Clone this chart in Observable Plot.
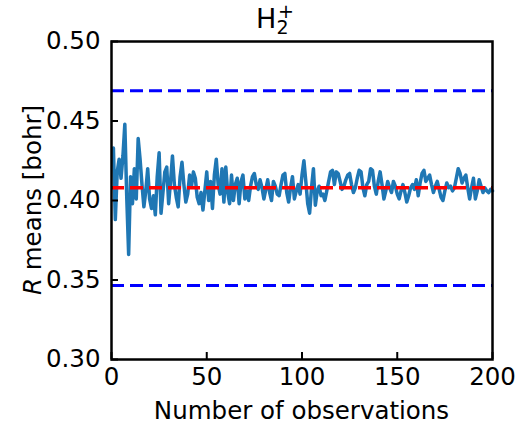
<!DOCTYPE html>
<html><head><meta charset="utf-8">
<script src="https://cdn.jsdelivr.net/npm/d3@7"></script>
<script src="https://cdn.jsdelivr.net/npm/@observablehq/plot@0.6"></script>
<style>body{margin:0;background:#fff;font-family:"DejaVu Sans",sans-serif;}</style>
</head><body><div id="chart"></div>
<script>
const means = [
0.433,0.388,0.418,0.426,0.414,0.428,0.448,0.402,0.366,0.415,
0.398,0.420,0.401,0.439,0.426,0.410,0.396,0.406,0.420,0.401,
0.395,0.403,0.391,0.415,0.430,0.392,0.405,0.418,0.421,0.398,
0.412,0.428,0.410,0.402,0.396,0.415,0.424,0.410,0.399,0.404,
0.416,0.409,0.418,0.414,0.402,0.398,0.405,0.394,0.406,0.418,
0.400,0.412,0.395,0.416,0.426,0.410,0.404,0.420,0.399,0.421,
0.405,0.398,0.416,0.400,0.410,0.414,0.398,0.412,0.416,0.401,
0.406,0.400,0.409,0.415,0.417,0.410,0.407,0.413,0.408,0.401,
0.407,0.413,0.405,0.400,0.412,0.409,0.404,0.403,0.410,0.416,
0.417,0.405,0.399,0.408,0.415,0.401,0.406,0.410,0.404,0.416,
0.425,0.412,0.398,0.392,0.408,0.420,0.397,0.406,0.409,0.403,
0.404,0.400,0.406,0.412,0.418,0.419,0.410,0.418,0.417,0.412,
0.407,0.409,0.413,0.416,0.417,0.410,0.405,0.408,0.414,0.419,
0.418,0.408,0.403,0.410,0.412,0.420,0.419,0.409,0.404,0.412,
0.418,0.410,0.401,0.406,0.412,0.408,0.405,0.412,0.409,0.404,
0.401,0.406,0.410,0.405,0.399,0.403,0.408,0.410,0.407,0.413,
0.403,0.411,0.417,0.419,0.412,0.414,0.416,0.410,0.405,0.409,
0.412,0.407,0.402,0.400,0.406,0.411,0.408,0.409,0.406,0.408,
0.414,0.420,0.417,0.411,0.414,0.416,0.408,0.401,0.408,0.414,
0.401,0.406,0.413,0.409,0.405,0.408,0.406,0.405,0.407,0.406
];
const trueValue = [0.408];
const bounds = [0.469, 0.3465];
const xTicks = [0, 50, 100, 150, 200];
const yTicks = [0.30, 0.35, 0.40, 0.45, 0.50];

const data = means.map((v, i) => ({n: i + 1, r: v}));

const plot = Plot.plot({
  width: 517, height: 426,
  marginLeft: 111, marginRight: 25, marginTop: 41, marginBottom: 67,
  style: {fontFamily: "DejaVu Sans, sans-serif", fontSize: "24.5px", background: "white", color: "black", overflow: "visible"},
  x: {domain: [0, 200]},
  y: {domain: [0.30, 0.50]},
  marks: [
    Plot.line(data, {x: "n", y: "r", stroke: "#1f77b4", strokeWidth: 3.5}),
    Plot.ruleY(trueValue, {stroke: "red", strokeWidth: 3.5, strokeDasharray: "13,6"}),
    Plot.ruleY(bounds, {stroke: "blue", strokeWidth: 3, strokeDasharray: "13,6"}),
    Plot.frame({stroke: "black", strokeWidth: 2.5}),
    Plot.axisX({ticks: xTicks, tickSize: -7, tickPadding: 15, tickFormat: d => String(d), label: null, strokeWidth: 2}),
    Plot.axisY({ticks: yTicks, tickSize: -7, tickPadding: 18, tickFormat: d3.format(".2f"), label: null, strokeWidth: 2})
  ]
});

const svg = d3.select(plot);
svg.append("text")
  .attr("x", 301.5).attr("y", 419)
  .attr("text-anchor", "middle").attr("font-size", 24.5).attr("fill", "black")
  .text("Number of observations");

const yl = svg.append("text")
  .attr("transform", "translate(41,200) rotate(-90)")
  .attr("text-anchor", "middle").attr("font-size", 24.5).attr("fill", "black");
yl.append("tspan").attr("font-style", "italic").text("R");
yl.append("tspan").text(" means [bohr]");

const t = svg.append("text")
  .attr("x", 275).attr("y", 28)
  .attr("font-size", 27).attr("fill", "black");
t.append("tspan").text("H");
t.append("tspan").attr("font-size", 19).attr("dy", 6).text("2");
t.append("tspan").attr("font-size", 19).attr("dx", -10.5).attr("dy", -16).text("+");

document.getElementById("chart").appendChild(plot);
</script>
</body></html>
